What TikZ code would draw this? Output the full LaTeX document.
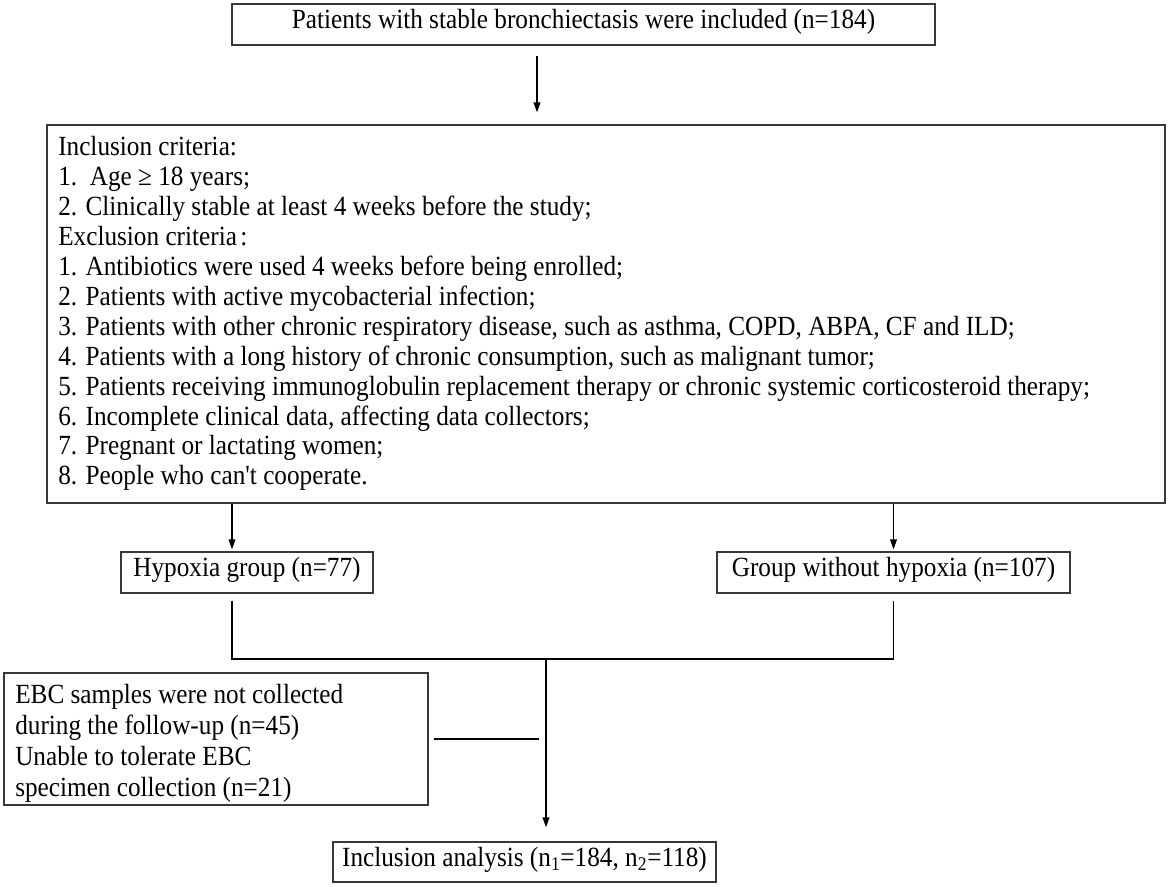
\documentclass[tikz,border=0pt]{standalone}
\usepackage{fontspec}
\newfontfamily\ser{Liberation Serif}[FakeStretch=0.91]
\usetikzlibrary{arrows.meta}
\newcommand\fsz{\ser\fontsize{20.8}{24}\selectfont}
\begin{document}
\begin{tikzpicture}[x=0.75pt,y=-0.75pt,
  box/.style={draw=black!78, line width=0.9pt, inner sep=0pt, font=\fsz, text height=0.75em, text depth=0.1em},
  conn/.style={line width=1.2pt, black},
  arr/.style={conn, -{Triangle[length=7.5pt,width=5pt]}},
  txt/.style={anchor=base west, inner sep=0pt, font=\fsz}]
\useasboundingbox (0,0) rectangle (1170,887);
% boxes
\node[box, minimum width=527.25pt, minimum height=30.75pt] (top) at (583.5,24.5) {Patients with stable bronchiectasis were included (n=184)};
\node[box, minimum width=838.5pt, minimum height=283.5pt] (crit) at (606,314) {};
\node[box, minimum width=189pt, minimum height=30.75pt] (hyp) at (247,572.5) {Hypoxia group (n=77)};
\node[box, minimum width=264.75pt, minimum height=30.75pt] (nohyp) at (893.5,572.5) {Group without hypoxia (n=107)};
\node[box, minimum width=318pt, minimum height=99pt] (ebc) at (216,739) {};
\node[box, minimum width=287.25pt, minimum height=30pt] (incl) at (524.5,862) {Inclusion analysis (n\textsubscript{1}=184, n\textsubscript{2}=118)};
% criteria text
\node[txt] (c1) at (58,156) {Inclusion criteria:};
\node[txt] (c2) at (58,185.9) {1.~~Age ≥ 18 years;};
\node[txt] (c3) at (58,215.8) {2. Clinically stable at least 4 weeks before the study;};
\node[txt] (c4) at (58,245.7) {Exclusion criteria\kern0.12em:};
\node[txt] (c5) at (58,275.6) {1. Antibiotics were used 4 weeks before being enrolled;};
\node[txt] (c6) at (58,305.5) {2. Patients with active mycobacterial infection;};
\node[txt] (c7) at (58,335.4) {3. Patients with other chronic respiratory disease, such as asthma, COPD, ABPA, CF and ILD;};
\node[txt] (c8) at (58,365.3) {4. Patients with a long history of chronic consumption, such as malignant tumor;};
\node[txt] (c9) at (58,395.2) {5. Patients receiving immunoglobulin replacement therapy or chronic systemic corticosteroid therapy;};
\node[txt] (c10) at (58,425.1) {6. Incomplete clinical data, affecting data collectors;};
\node[txt] (c11) at (58,455) {7. Pregnant or lactating women;};
\node[txt] (c12) at (58,484.9) {8. People who can't cooperate.};
% EBC text
\node[txt] (e1) at (15,703) {EBC samples were not collected};
\node[txt] (e2) at (15,734) {during the follow-up (n=45)};
\node[txt] (e3) at (15,765) {Unable to tolerate EBC};
\node[txt] (e4) at (15,796) {specimen collection (n=21)};
% helper coordinates
\coordinate (ta) at (537,0);
\coordinate (hx) at (232,0);
\coordinate (mj) at (546,659);
\coordinate (ej) at (539,739);
% connectors
\draw[arr] ([yshift=-7.5pt]top.south -| ta) -- ([yshift=9pt]crit.north -| ta);
\draw[arr] (crit.south -| hx) -- ([yshift=1.5pt]hyp.north -| hx);
\draw[arr] (crit.south -| nohyp.north) -- ([yshift=1.5pt]nohyp.north);
\draw[conn] ([yshift=-5.25pt]hyp.south -| hx) |- (mj) -| ([yshift=-5.25pt]nohyp.south);
\draw[arr] (mj) -- ([yshift=10.5pt]incl.north -| mj);
\draw[conn] ([xshift=3.75pt]ebc.east) -- (ej);
\end{tikzpicture}
\end{document}
